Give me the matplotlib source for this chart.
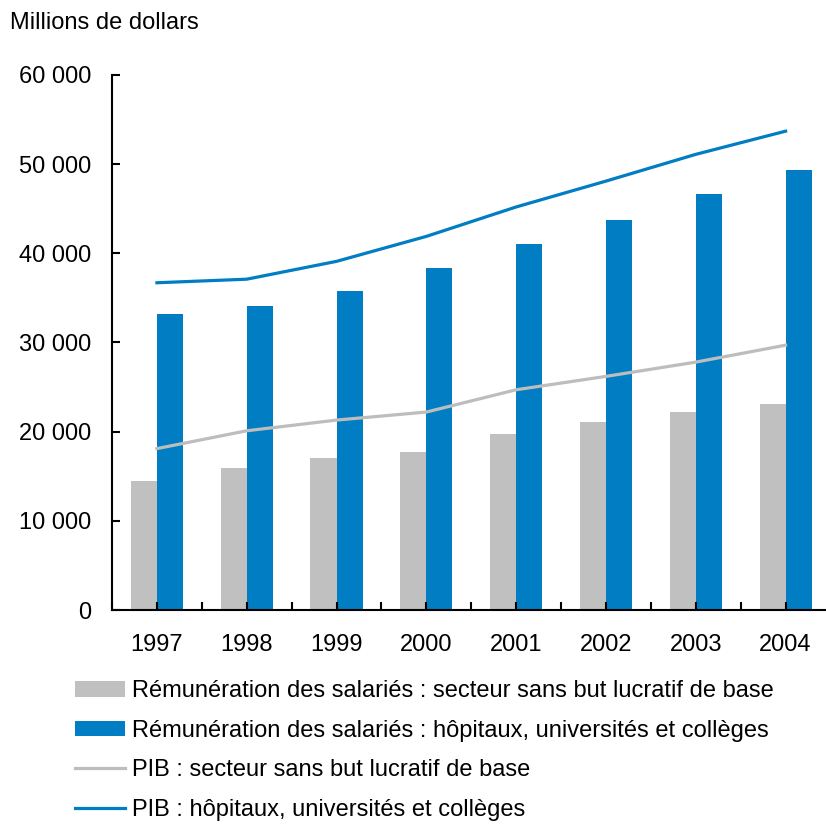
import numpy as np
import matplotlib
matplotlib.use('Agg')
import matplotlib.pyplot as plt
from matplotlib.ticker import FuncFormatter, MultipleLocator

# data (millions de dollars)
years = ['1997', '1998', '1999', '2000', '2001', '2002', '2003', '2004']
rem_base = [14500, 15900, 17000, 17700, 19700, 21100, 22200, 23100]
rem_hop = [33200, 34100, 35800, 38300, 41100, 43700, 46700, 49300]
pib_base = [18100, 20100, 21300, 22200, 24700, 26200, 27800, 29700]
pib_hop = [36700, 37100, 39100, 41900, 45200, 48100, 51100, 53700]

labels = ['Rémunération des salariés : secteur sans but lucratif de base',
          'Rémunération des salariés : hôpitaux, universités et collèges',
          'PIB : secteur sans but lucratif de base',
          'PIB : hôpitaux, universités et collèges']

blue = '#007dc3'
grey = '#c0c0c0'

plt.rcParams['font.family'] = ['Liberation Sans', 'DejaVu Sans']
plt.rcParams['font.size'] = 17

fig = plt.figure(figsize=(8.26, 8.25), dpi=100)
ax = fig.add_axes([0.1356, 0.2606, 0.8644, 0.6485])

x = np.arange(len(years))
w = 0.29
b1 = ax.bar(x - w / 2, rem_base, w, color=grey, label=labels[0])
b2 = ax.bar(x + w / 2, rem_hop, w, color=blue, label=labels[1])
l1, = ax.plot(x, pib_base, color='#bdbdbd', lw=2.3, label=labels[2])
l2, = ax.plot(x, pib_hop, color=blue, lw=2.3, label=labels[3])

ax.set_xlim(-0.5, 7.45)
ax.set_ylim(0, 60000)
ax.set_xticks(x)
ax.set_xticklabels(years)
ax.xaxis.set_minor_locator(MultipleLocator(1, offset=0.5))
ax.yaxis.set_major_locator(MultipleLocator(10000))
ax.yaxis.set_major_formatter(FuncFormatter(lambda v, p: f'{int(v):,}'.replace(',', ' ')))

ax.spines['top'].set_visible(False)
ax.spines['right'].set_visible(False)
for s in ('left', 'bottom'):
    ax.spines[s].set_linewidth(1.5)
ax.tick_params(axis='both', which='both', direction='in', length=6, width=1.5)
ax.tick_params(axis='x', pad=17)
ax.tick_params(axis='y', pad=15)

fig.text(0.012, 0.972, 'Millions de dollars', fontsize=17, va='center')

fig.legend(handles=[b1, b2, l1, l2], labels=labels, loc='upper left',
           bbox_to_anchor=(0.0908, 0.1755), frameon=False, fontsize=17,
           handlelength=2.1, handleheight=0.64, handletextpad=0.3,
           labelspacing=0.74, borderpad=0, borderaxespad=0)

fig.savefig('out.png', dpi=100)
